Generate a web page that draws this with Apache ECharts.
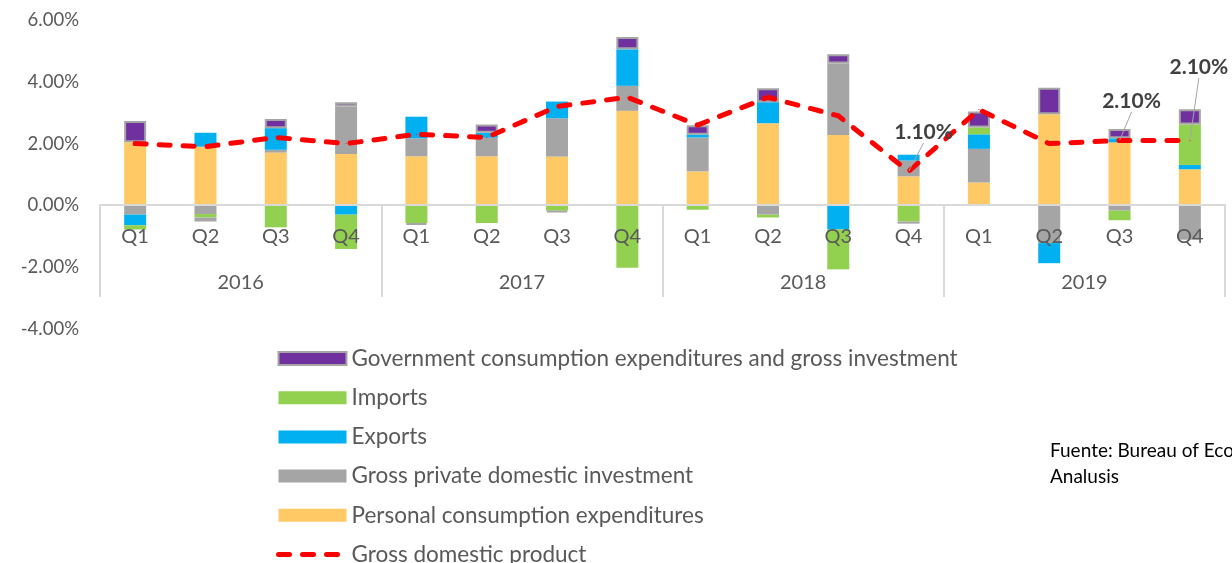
<!DOCTYPE html>
<html>
<head>
<meta charset="utf-8">
<script src="https://cdn.jsdelivr.net/npm/echarts/dist/echarts.min.js"></script>
<style>
  html, body { margin: 0; padding: 0; background: #fff; }
  #main { width: 1232px; height: 563px; }
</style>
</head>
<body>
<div id="main"></div>
<script>
// quarters / years (two level category axis)
var quarters = ["Q1", "Q2", "Q3", "Q4", "Q1", "Q2", "Q3", "Q4", "Q1", "Q2", "Q3", "Q4", "Q1", "Q2", "Q3", "Q4"];
var years = ["2016", "2017", "2018", "2019"];
var yTicks = [-4, -2, 0, 2, 4, 6];

// contributions to GDP growth, percentage points
var personal = [2.04, 1.90, 1.71, 1.66, 1.59, 1.59, 1.58, 3.06, 1.10, 2.66, 2.28, 0.94, 0.74, 2.95, 2.04, 1.17];
var privateInv = [-0.30, -0.28, 0.09, 1.54, 0.58, 0.60, 1.24, 0.81, 1.10, -0.30, 2.31, 0.51, 1.09, -1.22, -0.17, -1.11];
var exportsC = [-0.34, 0.45, 0.70, -0.30, 0.70, 0.16, 0.54, 1.18, 0.09, 0.68, -0.78, 0.19, 0.47, -0.65, 0.13, 0.14];
var importsC = [-0.14, -0.11, -0.71, -1.11, -0.57, -0.57, -0.17, -2.02, -0.14, -0.09, -1.29, -0.52, 0.22, 0, -0.31, 1.31];
var government = [0.69, -0.13, 0.30, 0.14, -0.06, 0.27, -0.05, 0.40, 0.30, 0.45, 0.30, -0.07, 0.52, 0.86, 0.30, 0.49];
var gdp = [2.0, 1.9, 2.2, 2.0, 2.3, 2.2, 3.2, 3.5, 2.6, 3.5, 2.9, 1.1, 3.1, 2.0, 2.1, 2.1];

// points that carry a value label
var labelled = [11, 14, 15];

var FONT = "Lato";
var RED_LINE = { color: "#FF0000", width: 5, type: [11, 13], cap: "round" };
var myChart = echarts.init(document.getElementById("main"));

var gdpData = gdp.map(function (v, i) {
  if (labelled.indexOf(i) < 0) return v;
  return {
    value: v,
    label: { show: true },
    labelLine: { show: true, lineStyle: { color: "#A6A6A6", width: 1 } }
  };
});

function barSeries(name, data, color, border) {
  return {
    name: name,
    type: "bar",
    stack: "total",
    barWidth: 22,
    data: data,
    itemStyle: {
      color: color,
      borderColor: border ? "#A5A5A5" : color,
      borderWidth: border ? 2 : 0
    }
  };
}

var option = {
  animation: false,
  backgroundColor: "#fff",
  textStyle: { fontFamily: FONT },
  grid: [
    // main plot
    { left: 100, right: 7, top: 20, bottom: 234, containLabel: false, outerBoundsMode: "none" },
    // strip under the zero line holding the year level of the axis
    { left: 100, right: 7, top: 205, bottom: 266, containLabel: false, outerBoundsMode: "none" }
  ],
  legend: {
    orient: "vertical",
    left: 276,
    top: 347,
    height: 260,
    padding: 0,
    itemWidth: 68,
    itemHeight: 13,
    itemGap: 16.2,
    textStyle: { fontFamily: FONT, fontSize: 22.5, color: "#595959" },
    data: [
      { name: "Government consumption expenditures and gross investment", icon: "rect" },
      { name: "Imports", icon: "rect" },
      { name: "Exports", icon: "rect" },
      { name: "Gross private domestic investment", icon: "rect" },
      { name: "Personal consumption expenditures", icon: "rect" },
      { name: "Gross domestic product", itemStyle: { opacity: 0 }, lineStyle: RED_LINE }
    ]
  },
  xAxis: [
    {
      // inner level: quarters, drawn on the zero line
      type: "category",
      gridIndex: 0,
      data: quarters,
      position: "bottom",
      offset: -124,
      z: 3,
      axisLine: { onZero: false, lineStyle: { color: "#D9D9D9", width: 2 } },
      axisTick: { show: false },
      axisLabel: { fontFamily: FONT, fontSize: 20, color: "#595959", margin: 22, interval: 0 },
      splitLine: { show: false }
    },
    {
      // outer level: years with separators
      type: "category",
      gridIndex: 1,
      data: years,
      position: "bottom",
      axisLine: { show: false },
      axisTick: {
        show: true,
        inside: true,
        length: 92,
        interval: 0,
        lineStyle: { color: "#D9D9D9", width: 2 }
      },
      axisLabel: { inside: true, margin: 4, fontFamily: FONT, fontSize: 20, color: "#595959" },
      splitLine: { show: false }
    }
  ],
  yAxis: [
    {
      type: "value",
      gridIndex: 0,
      min: yTicks[0],
      max: yTicks[yTicks.length - 1],
      interval: 2,
      axisLine: { show: false },
      axisTick: { show: false },
      splitLine: { show: false },
      axisLabel: {
        margin: 21,
        fontFamily: FONT,
        fontSize: 18.5,
        color: "#595959",
        formatter: function (v) { return v.toFixed(2) + "%"; }
      }
    },
    {
      type: "value",
      gridIndex: 1,
      show: false,
      min: 0,
      max: 1
    }
  ],
  series: [
    barSeries("Personal consumption expenditures", personal, "#FFCA66", false),
    barSeries("Gross private domestic investment", privateInv, "#A5A5A5", false),
    barSeries("Exports", exportsC, "#00B0F0", false),
    barSeries("Imports", importsC, "#92D050", false),
    barSeries("Government consumption expenditures and gross investment", government, "#7030A0", true),
    {
      name: "Gross domestic product",
      type: "line",
      z: 5,
      data: gdpData,
      symbol: "circle",
      symbolSize: 1,
      itemStyle: { color: "#FF0000" },
      lineStyle: RED_LINE,
      label: {
        show: false,
        position: "top",
        distance: 5,
        fontFamily: FONT,
        fontSize: 21,
        fontWeight: "bold",
        color: "#404040",
        formatter: function (p) { return p.value.toFixed(2) + "%"; }
      },
      labelLayout: function (p) {
        if (p.dataIndex === 11) return { dx: 15, dy: -23 };
        if (p.dataIndex === 14) return { dx: 12, dy: -23 };
        if (p.dataIndex === 15) return { dx: 9, dy: -57 };
        return {};
      }
    }
  ],
  graphic: [
    {
      type: "text",
      left: 1050,
      top: 438,
      style: {
        text: "Fuente: Bureau of Economic\nAnalusis",
        fontFamily: FONT,
        fontSize: 19,
        lineHeight: 26,
        fill: "#000"
      }
    }
  ]
};

myChart.setOption(option);
</script>
</body>
</html>
